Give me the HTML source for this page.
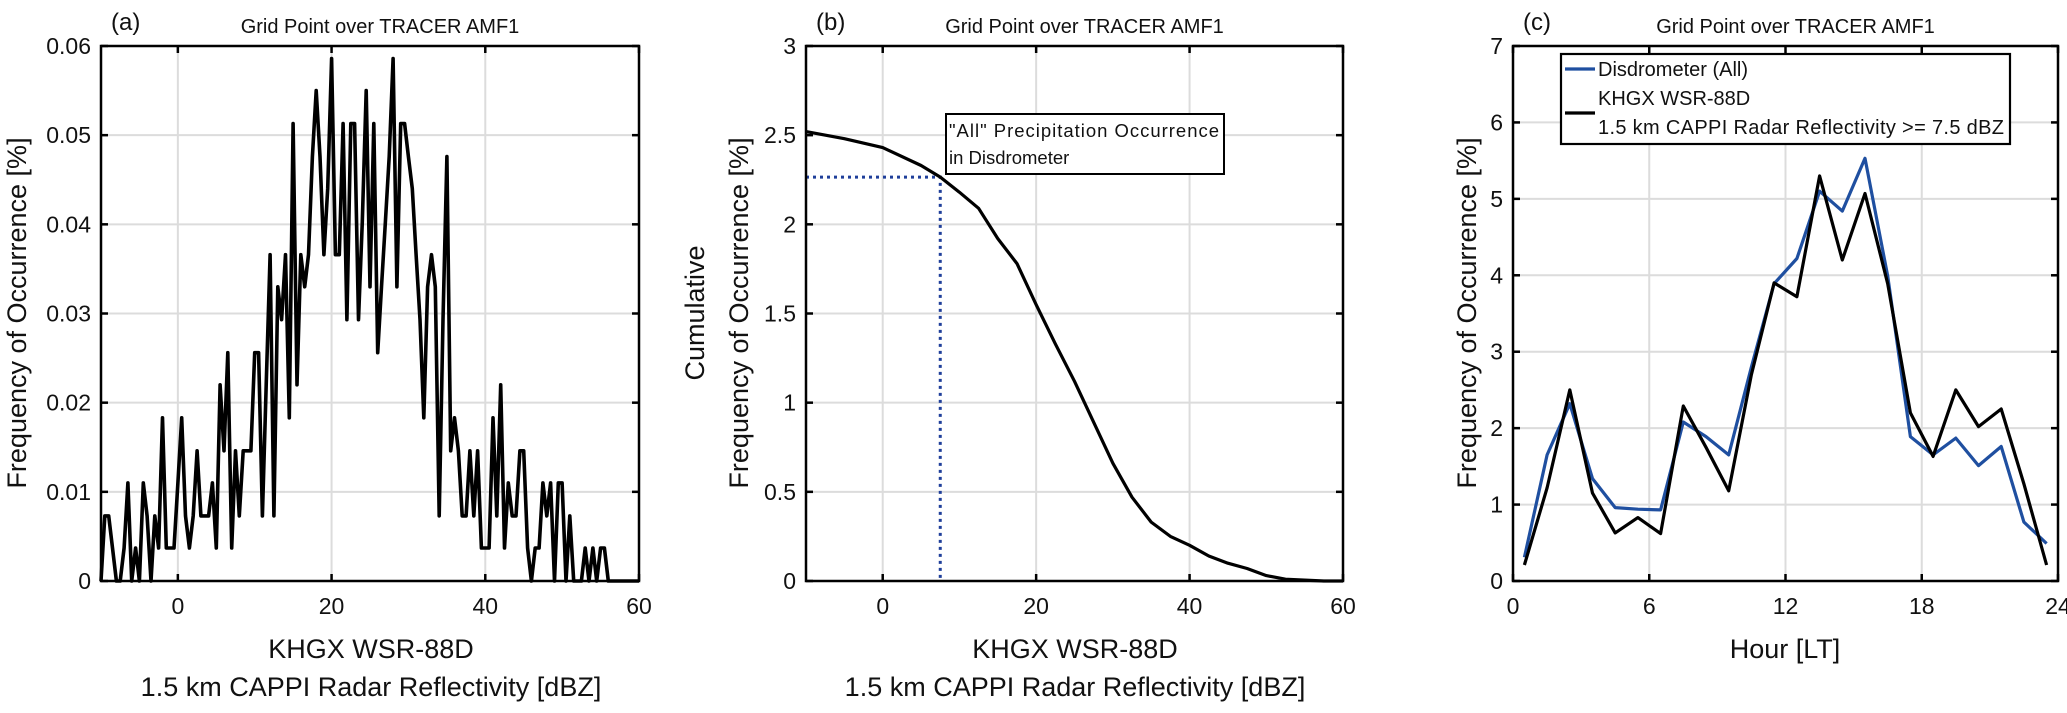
<!DOCTYPE html>
<html><head><meta charset="utf-8">
<style>
html,body{margin:0;padding:0;background:#fff;}
svg{display:block;font-family:"Liberation Sans",sans-serif;}
</style></head>
<body>
<svg id="fig" width="2067" height="713" viewBox="0 0 2067 713" xmlns="http://www.w3.org/2000/svg"></svg>
<script>
// ---- Panel (a) data: frequency of occurrence per 0.5 dBZ bin ----
const aBinStart = -10;
const aBinStep = 0.5;
const aValues = [0,0.0073,0.0073,0.0037,0,0,0.0037,0.011,0,0.0037,0,0.011,0.0073,0,0.0073,0.0037,0.0183,0.0037,0.0037,0.0037,
0.011,0.0183,0.0073,0.0037,0.0073,0.0146,0.0073,0.0073,0.0073,0.011,0.0037,0.022,0.0146,0.0256,0.0037,0.0146,0.0073,0.0146,0.0146,0.0146,
0.0256,0.0256,0.0073,0.022,0.0366,0.0073,0.033,0.0293,0.0366,0.0183,0.0513,0.022,0.0366,0.033,0.0366,0.0476,0.055,0.0476,0.0366,0.044,
0.0586,0.0366,0.0366,0.0513,0.0293,0.0513,0.0513,0.0293,0.0403,0.055,0.033,0.0513,0.0256,0.033,0.0403,0.0476,0.0586,0.033,0.0513,0.0513,
0.0476,0.044,0.0366,0.0293,0.0183,0.033,0.0366,0.033,0.0073,0.0293,0.0476,0.0146,0.0183,0.0146,0.0073,0.0073,0.0146,0.0073,0.0146,0.0037,
0.0037,0.0037,0.0183,0.0073,0.022,0.0037,0.011,0.0073,0.0073,0.0146,0.0146,0.0037,0,0.0037,0.0037,0.011,0.0073,0.011,0,0.011,
0.011,0,0.0073,0,0,0,0.0037,0,0.0037,0,0.0037,0.0037,0,0,0,0,0,0,0,0,0];
const aXTicks = [0,20,40,60];
const aXTickLabels = ["0","20","40","60"];
const aYTicks = [0,0.01,0.02,0.03,0.04,0.05,0.06];
const aYTickLabels = ["0","0.01","0.02","0.03","0.04","0.05","0.06"];

// ---- Panel (b) data: cumulative frequency ----
const bX = [-10,-5,0,5,7.5,10,12.5,15,17.5,20,22.5,25,27.5,30,32.5,35,37.5,40,42.5,45,47.5,50,52.5,55,57.5,60];
const bY = [2.52,2.48,2.43,2.33,2.265,2.18,2.09,1.92,1.78,1.55,1.33,1.12,0.89,0.66,0.47,0.33,0.25,0.2,0.14,0.1,0.07,0.03,0.01,0.005,0,0];
const bThresholdX = [7.5];
const bThresholdY = [2.265];
const bXTicks = [0,20,40,60];
const bXTickLabels = ["0","20","40","60"];
const bYTicks = [0,0.5,1,1.5,2,2.5,3];
const bYTickLabels = ["0","0.5","1","1.5","2","2.5","3"];

// ---- Panel (c) data: diurnal cycle ----
const cHours = [0.5,1.5,2.5,3.5,4.5,5.5,6.5,7.5,8.5,9.5,10.5,11.5,12.5,13.5,14.5,15.5,16.5,17.5,18.5,19.5,20.5,21.5,22.5,23.5];
const cDisdrometer = [0.31,1.65,2.32,1.34,0.96,0.94,0.93,2.08,1.89,1.65,2.8,3.89,4.22,5.1,4.84,5.53,3.99,1.89,1.65,1.87,1.51,1.76,0.77,0.49];
const cRadar = [0.21,1.22,2.5,1.15,0.63,0.83,0.62,2.29,1.75,1.18,2.7,3.9,3.72,5.3,4.2,5.07,3.89,2.2,1.63,2.5,2.02,2.25,1.27,0.21];
const cXTicks = [0,6,12,18,24];
const cXTickLabels = ["0","6","12","18","24"];
const cYTicks = [0,1,2,3,4,5,6,7];
const cYTickLabels = ["0","1","2","3","4","5","6","7"];

const NS = "http://www.w3.org/2000/svg";
const svg = document.getElementById("fig");
function mk(tag, attrs, parent){
  const e = document.createElementNS(NS, tag);
  for (const k in attrs) e.setAttribute(k, attrs[k]);
  (parent||svg).appendChild(e);
  return e;
}
function txt(s, attrs, parent){ const t = mk("text", attrs, parent); t.textContent = s; return t; }

const TOP = 46, BOT = 581;
const TICKFS = 23;

function makeAxes(id, L, R, xmin, xmax, ymin, ymax, xTicks, xLabels, yTicks, yLabels, xGrid, yGrid){
  const g = mk("g", {});
  
  
  const sx = v => L + (v - xmin) / (xmax - xmin) * (R - L);
  const sy = v => BOT - (v - ymin) / (ymax - ymin) * (BOT - TOP);
  const grid = mk("g", {}, g);
  
  
  xGrid.forEach(v => {
    const l = mk("line", {x1:sx(v), x2:sx(v), y1:TOP, y2:BOT, stroke:"#dcdcdc", "stroke-width":2}, grid);
    
    
  });
  yGrid.forEach(v => {
    const l = mk("line", {x1:L, x2:R, y1:sy(v), y2:sy(v), stroke:"#dcdcdc", "stroke-width":2}, grid);
    
    
  });
  xTicks.forEach((v, i) => {
    const x = sx(v);
    mk("line", {x1:x, x2:x, y1:BOT, y2:BOT-7, stroke:"#000", "stroke-width":2.5}, g);
    mk("line", {x1:x, x2:x, y1:TOP, y2:TOP+7, stroke:"#000", "stroke-width":2.5}, g);
    const t = txt(xLabels[i], {x:x, y:614, "text-anchor":"middle", "font-size":TICKFS, fill:"#111"}, g);
    
    
  });
  yTicks.forEach((v, i) => {
    const y = sy(v);
    mk("line", {x1:L, x2:L+7, y1:y, y2:y, stroke:"#000", "stroke-width":2.5}, g);
    mk("line", {x1:R, x2:R-7, y1:y, y2:y, stroke:"#000", "stroke-width":2.5}, g);
    const t = txt(yLabels[i], {x:L-10, y:y+8, "text-anchor":"end", "font-size":TICKFS, fill:"#111"}, g);
    
    
  });
  return {g, sx, sy, L, R};
}
function frame(ax, id){
  const r = mk("rect", {x:ax.L, y:TOP, width:ax.R-ax.L, height:BOT-TOP, fill:"none", stroke:"#000", "stroke-width":2.5}, ax.g);
  
  
}
function titles(ax, id, letter){
  const c = (ax.L + ax.R) / 2;
  const t = txt("Grid Point over TRACER AMF1", {x:c+10, y:33, "text-anchor":"middle", "font-size":20, fill:"#111"}, ax.g);
  
  
  const p = txt(letter, {x:ax.L+10, y:30, "font-size":24, fill:"#111"}, ax.g);
  
  
}
function polyline(ax, xs, ys, color, name, w){
  const pts = xs.map((x, i) => ax.sx(x).toFixed(1) + "," + ax.sy(ys[i]).toFixed(1)).join(" ");
  const p = mk("polyline", {points:pts, fill:"none", stroke:color, "stroke-width":w||3.2, "stroke-linejoin":"round"}, ax.g);
  
  
  return p;
}

// ---------- Panel (a) ----------
const A = makeAxes("panel-a", 101, 639, -10, 60, 0, 0.06, aXTicks, aXTickLabels, aYTicks, aYTickLabels, [0,20,40], [0.01,0.02,0.03,0.04,0.05]);
const aX = aValues.map((v, i) => aBinStart + i * aBinStep);
polyline(A, aX, aValues, "#000", "panel-a-frequency-line", 3.6);
frame(A, "panel-a");
titles(A, "panel-a", "(a)");
{
  const xl1 = txt("KHGX WSR-88D", {x:371, y:658, "text-anchor":"middle", "font-size":27, fill:"#111"}, A.g);
  
  
  const xl2 = txt("1.5 km CAPPI Radar Reflectivity [dBZ]", {x:371, y:696, "text-anchor":"middle", "font-size":27, fill:"#111"}, A.g);
  
  
  const yl = txt("Frequency of Occurrence [%]", {x:0, y:0, "text-anchor":"middle", "font-size":27, fill:"#111", transform:"translate(26,313) rotate(-90)"}, A.g);
  
  
}

// ---------- Panel (b) ----------
const B = makeAxes("panel-b", 806, 1343, -10, 60, 0, 3, bXTicks, bXTickLabels, bYTicks, bYTickLabels, [0,20,40], [0.5,1,1.5,2,2.5]);
{
  const tx = B.sx(bThresholdX[0]), ty = B.sy(bThresholdY[0]);
  const d = mk("path", {d:`M${B.L},${ty} L${tx},${ty} L${tx},${BOT}`, fill:"none", stroke:"#1f3f9a", "stroke-width":3, "stroke-dasharray":"3,4"}, B.g);
  
  
}
polyline(B, bX, bY, "#000", "panel-b-cumulative-line");
frame(B, "panel-b");
titles(B, "panel-b", "(b)");
{
  const box = mk("g", {}, B.g);
  
  
  mk("rect", {x:946, y:114, width:278, height:60, fill:"#fff", stroke:"#000", "stroke-width":2}, box);
  txt("\"All\" Precipitation Occurrence", {x:949, y:137, "font-size":18.5, fill:"#111", textLength:270}, box);
  txt("in Disdrometer", {x:949, y:164, "font-size":18.5, fill:"#111"}, box);
  const xl1 = txt("KHGX WSR-88D", {x:1075, y:658, "text-anchor":"middle", "font-size":27, fill:"#111"}, B.g);
  
  
  const xl2 = txt("1.5 km CAPPI Radar Reflectivity [dBZ]", {x:1075, y:696, "text-anchor":"middle", "font-size":27, fill:"#111"}, B.g);
  
  
  const yl1 = txt("Cumulative", {x:0, y:0, "text-anchor":"middle", "font-size":27, fill:"#111", transform:"translate(704,313) rotate(-90)"}, B.g);
  
  
  const yl2 = txt("Frequency of Occurrence [%]", {x:0, y:0, "text-anchor":"middle", "font-size":27, fill:"#111", transform:"translate(748,313) rotate(-90)"}, B.g);
  
  
}

// ---------- Panel (c) ----------
const C = makeAxes("panel-c", 1513, 2058, 0, 24, 0, 7, cXTicks, cXTickLabels, cYTicks, cYTickLabels, [6,12,18], [1,2,3,4,5,6]);
polyline(C, cHours, cDisdrometer, "#1f4fa0", "panel-c-disdrometer-line");
polyline(C, cHours, cRadar, "#000", "panel-c-radar-line");
frame(C, "panel-c");
titles(C, "panel-c", "(c)");
{
  const lg = mk("g", {}, C.g);
  
  
  mk("rect", {x:1561, y:54, width:449, height:90, fill:"#fff", stroke:"#000", "stroke-width":2.2}, lg);
  const e1 = mk("g", {}, lg);
  
  
  mk("line", {x1:1565, x2:1595, y1:69, y2:69, stroke:"#1f4fa0", "stroke-width":3.2}, e1);
  txt("Disdrometer (All)", {x:1598, y:76, "font-size":20, fill:"#111"}, e1);
  const e2 = mk("g", {}, lg);
  
  
  mk("line", {x1:1565, x2:1595, y1:113, y2:113, stroke:"#000", "stroke-width":3.2}, e2);
  txt("KHGX WSR-88D", {x:1598, y:105, "font-size":20, fill:"#111"}, e2);
  txt("1.5 km CAPPI Radar Reflectivity >= 7.5 dBZ", {x:1598, y:134, "font-size":20, fill:"#111", textLength:406}, e2);
  const xl = txt("Hour [LT]", {x:1785, y:658, "text-anchor":"middle", "font-size":27, fill:"#111"}, C.g);
  
  
  const yl = txt("Frequency of Occurrence [%]", {x:0, y:0, "text-anchor":"middle", "font-size":27, fill:"#111", transform:"translate(1476,313) rotate(-90)"}, C.g);
  
  
}
</script>
</body></html>
